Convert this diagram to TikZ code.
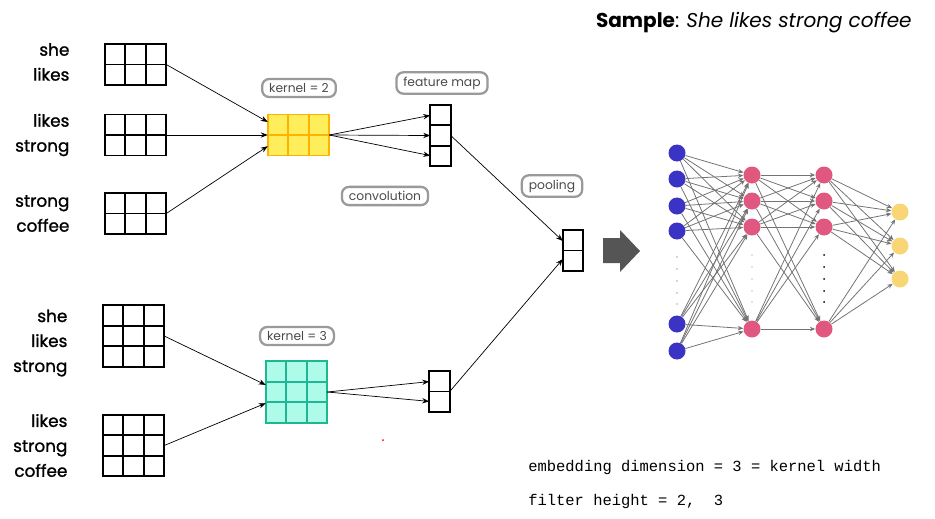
\documentclass[tikz,border=0pt]{standalone}
\usepackage{fontspec}
\setmainfont{Poppins}
\newfontfamily\wordfont[FakeBold = 1.2]{Poppins}
\newfontfamily\monofont{Liberation Mono}
\usetikzlibrary{positioning, arrows.meta}

\definecolor{kernfill}{HTML}{FFEE5C}
\definecolor{kernline}{HTML}{FFB300}
\definecolor{tealfill}{HTML}{AFFBEA}
\definecolor{tealline}{HTML}{1DB893}
\definecolor{tagline}{HTML}{9A9A9A}
\definecolor{tagtext}{HTML}{4A4A4A}
\definecolor{arrowgrey}{HTML}{555555}
\definecolor{inblue}{HTML}{3A33C4}
\definecolor{hidpink}{HTML}{E0587F}
\definecolor{outyellow}{HTML}{F8D675}

% Cell size and word matrices

\def\C{0.41cm}

\newcommand{\cellgrid}[6]{%
	\node [draw = #5, fill = #6, line width = 1.1pt, inner sep = 0, outer sep = 0,
		minimum width = #3 * \C, minimum height = #4 * \C] (#1) at #2 {};
	\draw [#5, line width = 1.1pt, shift = {(#1.south west)}] (0, 0) grid [step = \C] (#3 * \C, #4 * \C);
}

\begin{document}
\begin{tikzpicture}[x = 0.02 cm, y = -0.02 cm,
	words/.style = {align = right, inner sep = 0, font = \wordfont\fontsize{9.6}{14.2}\selectfont},
	tag/.style = {draw = tagline, line width = 1.3pt, rounded corners = 4pt, text = tagtext,
		font = \fontsize{7}{8}\selectfont, inner xsep = 4pt, inner ysep = 2.5pt},
	wire/.style = {draw = black!55, line width = 0.45pt, -{Stealth[length = 3pt, width = 2.5pt]}},
	unit/.style = {circle, minimum size = 0.34 cm, inner sep = 0},
	mono/.style = {inner sep = 0, font = \monofont\fontsize{8.8}{10}\selectfont}]

	\useasboundingbox (0, 0) rectangle (935, 518);

	% Title

	\node [anchor = base east, inner sep = 0, font = \fontsize{11.4}{14}\selectfont] (title) at (912, 27)
		{\textbf{Sample}: \textit{She likes strong coffee}};

	% Kernel = 2

	\cellgrid{g1}{(135.5, 64.5)}{3}{2}{black}{white}
	\cellgrid{g2}{(135.5, 135)}{3}{2}{black}{white}
	\cellgrid{g3}{(135.5, 213.5)}{3}{2}{black}{white}
	\cellgrid{k2}{(298.5, 135)}{3}{2}{kernline}{kernfill}
	\cellgrid{f1}{(440.5, 135.5)}{1}{3}{black}{white}

	\node [words, left = 0.7 cm of g1, yshift = 0.05 cm] (w1) {she\\likes};
	\node [words, left = 0.7 cm of g2] (w2) {likes\\strong};
	\node [words, left = 0.7 cm of g3] (w3) {strong\\coffee};

	\node [tag] (t2) at (299, 88) {kernel = 2};
	\node [tag] (tf) at (442, 83) {feature map};
	\node [tag] (tc) at (385, 196) {convolution};

	\draw [-{Stealth[length = 4pt, width = 3pt]}] (g1.east) -- (k2.157);
	\draw [-{Stealth[length = 4pt, width = 3pt]}] (g2.east) -- (k2.west);
	\draw [-{Stealth[length = 4pt, width = 3pt]}] (g3.east) -- (k2.200);
	\foreach \a in {117, 180, 243}
		\draw [-{Stealth[length = 4pt, width = 3pt]}] (k2.east) -- (f1.\a);

	% Kernel = 3

	\cellgrid{g4}{(133.5, 336)}{3}{3}{black}{white}
	\cellgrid{g5}{(133.5, 445.5)}{3}{3}{black}{white}
	\cellgrid{k3}{(296.5, 392)}{3}{3}{tealline}{tealfill}
	\cellgrid{f2}{(439.5, 391.5)}{1}{2}{black}{white}

	\node [words, left = 0.7 cm of g4, yshift = -0.14 cm] (w4) {she\\likes\\strong};
	\node [words, left = 0.7 cm of g5] (w5) {likes\\strong\\coffee};

	\node [tag] (t3) at (297, 336) {kernel = 3};

	\draw [-{Stealth[length = 4pt, width = 3pt]}] (g4.east) -- (k3.167);
	\draw [-{Stealth[length = 4pt, width = 3pt]}] (g5.east) -- (k3.200);
	\foreach \a in {136, 224}
		\draw [-{Stealth[length = 4pt, width = 3pt]}] (k3.east) -- (f2.\a);

	\fill [red] (383, 440) circle (1);

	% Pooling

	\cellgrid{p}{(573, 250.5)}{1}{2}{black}{white}
	\node [tag] (tp) at (552, 186) {pooling};

	\draw [-{Stealth[length = 4pt, width = 3pt]}] (f1.east) -- (p.137);
	\draw [-{Stealth[length = 4pt, width = 3pt]}] (f2.east) -- (p.220);

	\fill [arrowgrey] (603, 238) -- (620, 238) -- (620, 230) -- (640, 251) -- (620, 272)
		-- (620, 263) -- (603, 263) -- cycle;

	% Network

	\foreach \y [count = \i] in {153, 179, 206, 231, 324, 351}
		\node [unit, fill = inblue] (i\i) at (677, \y) {};
	\foreach \y [count = \i] in {175, 201, 227, 329} {
		\node [unit, fill = hidpink] (a\i) at (752, \y) {};
		\node [unit, fill = hidpink] (b\i) at (824, \y) {};
	}
	\foreach \y [count = \i] in {212, 246, 279}
		\node [unit, fill = outyellow] (o\i) at (900, \y) {};

	\foreach \i in {1, ..., 6}
		\foreach \j in {1, ..., 4}
			\draw [wire] (i\i) -- (a\j);
	\foreach \i in {1, ..., 4}
		\foreach \j in {1, ..., 4}
			\draw [wire] (a\i) -- (b\j);
	\foreach \i in {1, ..., 4}
		\foreach \j in {1, ..., 3}
			\draw [wire] (b\i) -- (o\j);

	\foreach \y in {257, 269, 281, 293, 304} {
		\fill [black!70] (677, \y) circle (0.6);
		\fill [black!50] (752, \y - 2) circle (0.6);
		\fill [black] (824, \y - 2) circle (1);
	}

	% Notes

	\node [mono, anchor = base west] (dim) at (528, 471) {embedding dimension = 3 = kernel width};
	\node [mono, anchor = base west] (fh) at (528, 505) {filter height = 2,\ \ 3};

\end{tikzpicture}
\end{document}
